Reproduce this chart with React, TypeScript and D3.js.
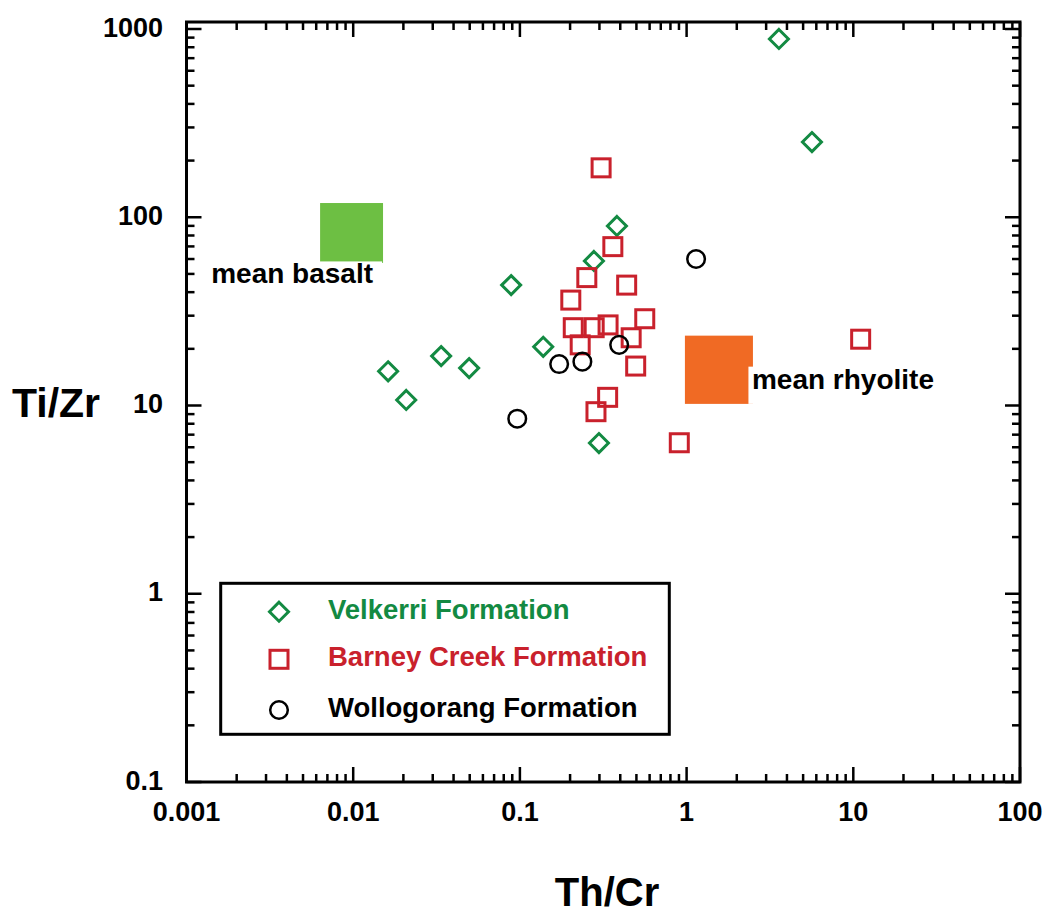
import React from "react";
import * as d3 from "d3";

// ---- data ----
const velkerriX = [3.58, 5.65, 0.382, 0.278, 0.0886, 0.138, 0.0337, 0.0496, 0.0162, 0.0208, 0.298];
const velkerriY = [885, 251, 89.9, 58.6, 43.6, 20.5, 18.3, 15.8, 15.2, 10.7, 6.32];

const barneyX = [0.307, 0.361, 0.252, 0.437, 0.202, 0.561, 0.209, 0.279, 0.338, 0.465, 0.23, 0.495, 0.336, 0.286, 0.904, 11.07];
const barneyY = [183, 69.8, 47.8, 43.6, 36.3, 28.9, 25.9, 25.9, 26.8, 22.9, 21.0, 16.2, 11.05, 9.27, 6.34, 22.5];

const wolloX = [1.14, 0.394, 0.237, 0.172, 0.0964];
const wolloY = [60, 21.0, 17.1, 16.6, 8.51];

const basaltX = [0.00633, 0.0151];
const basaltY = [57.2, 119];
const rhyoliteX = [0.977, 2.5];
const rhyoliteY = [10.2, 23.5];

const xTickValues = [0.001, 0.01, 0.1, 1, 10, 100];
const xTickLabels = ["0.001", "0.01", "0.1", "1", "10", "100"];
const yTickValues = [0.1, 1, 10, 100, 1000];
const yTickLabels = ["0.1", "1", "10", "100", "1000"];

const legendLabels = ["Velkerri Formation", "Barney Creek Formation", "Wollogorang Formation"];

const GREEN = "#138a42";
const RED = "#c9212c";
const BLACK = "#000000";
const FONT = "'Liberation Sans', Arial, Helvetica, sans-serif";

export default function App() {
  const W = 1047, H = 917;
  const x = d3.scaleLog().domain([0.001, 100]).range([186.5, 1020]);
  const y = d3.scaleLog().domain([0.1, 1000]).range([782, 29]);
  const frameTop = 22;

  const minorX: number[] = [];
  for (let e = -3; e < 2; e++) for (let m = 2; m <= 9; m++) minorX.push(m * Math.pow(10, e));
  const minorY: number[] = [];
  for (let e = -1; e < 3; e++) for (let m = 2; m <= 9; m++) minorY.push(m * Math.pow(10, e));

  const L = x.range()[0], R = x.range()[1], B = y.range()[0];
  const MAJ = 15, MIN = 8;

  const diamond = (cx: number, cy: number, key: any) => {
    const r = 9.5;
    return (
      <path key={key} d={`M${cx},${cy - r}L${cx + r},${cy}L${cx},${cy + r}L${cx - r},${cy}Z`}
        fill="none" stroke={GREEN} strokeWidth={3} />
    );
  };
  const square = (cx: number, cy: number, key: any) => (
    <rect key={key} x={cx - 9} y={cy - 9} width={18} height={18} fill="none" stroke={RED} strokeWidth={3} />
  );
  const circle = (cx: number, cy: number, key: any) => (
    <circle key={key} cx={cx} cy={cy} r={8.8} fill="none" stroke={BLACK} strokeWidth={2.5} />
  );

  const legX = 220.7, legY = 583.3, legW = 448.6, legH = 151;
  const legRows = [611.7, 659.3, 710];
  const legColors = [GREEN, RED, BLACK];

  return (
    <svg width={W} height={H} style={{ position: "absolute", left: 0, top: 0, background: "#fff" }}
      fontFamily={FONT} fontWeight="bold">
      <rect x={0} y={0} width={W} height={H} fill="#fff" />

      {/* reference areas */}
      <rect x={x(basaltX[0])} y={y(basaltY[1])} width={x(basaltX[1]) - x(basaltX[0])}
        height={y(basaltY[0]) - y(basaltY[1])} fill="#6dbf43" />
      <rect x={x(rhyoliteX[0])} y={y(rhyoliteY[1])} width={x(rhyoliteX[1]) - x(rhyoliteX[0])}
        height={y(rhyoliteY[0]) - y(rhyoliteY[1])} fill="#f06a24" />
      <rect x={x(basaltX[0]) - 113} y={y(basaltY[0]) - 1.5} width={175} height={30} fill="#fff" />
      <text x={x(basaltX[1]) - 10} y={y(basaltY[0]) + 20} textAnchor="end" fontSize={28}>mean basalt</text>
      <rect x={x(rhyoliteX[1]) - 4.5} y={y(rhyoliteY[1]) + 31} width={190}
        height={y(rhyoliteY[0]) - y(rhyoliteY[1]) - 31} fill="#fff" />
      <text x={x(rhyoliteX[1]) - 1} y={y(rhyoliteY[0]) - 15} fontSize={28}>mean rhyolite</text>

      {/* frame */}
      <rect x={L} y={frameTop} width={R - L} height={B - frameTop} fill="none" stroke="#000" strokeWidth={3} />

      {/* x ticks */}
      {xTickValues.map((v, i) => (
        <g key={"xt" + i}>
          <line x1={x(v)} x2={x(v)} y1={B} y2={B - MAJ} stroke="#000" strokeWidth={2.5} />
          <line x1={x(v)} x2={x(v)} y1={frameTop} y2={frameTop + MAJ} stroke="#000" strokeWidth={2.5} />
          <text x={x(v)} y={821} textAnchor="middle" fontSize={27}>{xTickLabels[i]}</text>
        </g>
      ))}
      {minorX.map((v, i) => (
        <g key={"xm" + i}>
          <line x1={x(v)} x2={x(v)} y1={B} y2={B - MIN} stroke="#000" strokeWidth={2.5} />
          <line x1={x(v)} x2={x(v)} y1={frameTop} y2={frameTop + MIN} stroke="#000" strokeWidth={2.5} />
        </g>
      ))}

      {/* y ticks */}
      {yTickValues.map((v, i) => (
        <g key={"yt" + i}>
          <line x1={L} x2={L + MAJ} y1={y(v)} y2={y(v)} stroke="#000" strokeWidth={2.5} />
          <line x1={R} x2={R - MAJ} y1={y(v)} y2={y(v)} stroke="#000" strokeWidth={2.5} />
          <text x={163} y={y(v) + 7.5} textAnchor="end" fontSize={27}>{yTickLabels[i]}</text>
        </g>
      ))}
      {minorY.map((v, i) => (
        <g key={"ym" + i}>
          <line x1={L} x2={L + MIN} y1={y(v)} y2={y(v)} stroke="#000" strokeWidth={2.5} />
          <line x1={R} x2={R - MIN} y1={y(v)} y2={y(v)} stroke="#000" strokeWidth={2.5} />
        </g>
      ))}

      {/* axis titles */}
      <text x={56} y={417} textAnchor="middle" fontSize={41}>Ti/Zr</text>
      <text x={607} y={906} textAnchor="middle" fontSize={40}>Th/Cr</text>

      {/* data */}
      {velkerriX.map((v, i) => diamond(x(v), y(velkerriY[i]), "v" + i))}
      {barneyX.map((v, i) => square(x(v), y(barneyY[i]), "b" + i))}
      {wolloX.map((v, i) => circle(x(v), y(wolloY[i]), "w" + i))}

      {/* legend */}
      <rect x={legX} y={legY} width={legW} height={legH} fill="#fff" stroke="#000" strokeWidth={3} />
      {diamond(279, legRows[0], "ld")}
      {square(279, legRows[1], "ls")}
      {circle(279, legRows[2], "lc")}
      {legendLabels.map((t, i) => (
        <text key={"lt" + i} x={328} y={legRows[i] + 7} fontSize={27.5} fill={legColors[i]}>{t}</text>
      ))}
    </svg>
  );
}
